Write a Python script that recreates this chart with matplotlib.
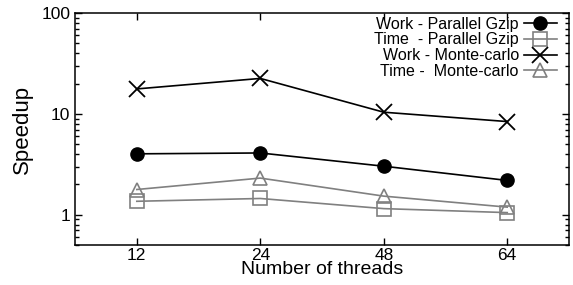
import matplotlib
matplotlib.use("Agg")
import matplotlib.pyplot as plt
from matplotlib.ticker import LogLocator, FixedLocator, NullFormatter

plt.rcParams['font.family'] = ['Liberation Sans', 'DejaVu Sans']

threads = ["12", "24", "48", "64"]
work_gzip = [4.02, 4.1, 3.03, 2.19]
time_gzip = [1.36, 1.45, 1.15, 1.05]
work_monte = [17.7, 22.5, 10.4, 8.4]
time_monte = [1.78, 2.31, 1.53, 1.19]

gray = "#808080"

fig = plt.figure(figsize=(5.73, 2.85), dpi=100)
ax = fig.add_axes([0.131, 0.14, 0.862, 0.814])

xs = range(len(threads))
ax.plot(xs, work_gzip, color="black", lw=1.2, marker="o", ms=9.5,
        label="Work - Parallel Gzip")
ax.plot(xs, time_gzip, color=gray, lw=1.2, marker="s", ms=10, mfc="none",
        mew=1.2, label="Time  - Parallel Gzip")
ax.plot(xs, work_monte, color="black", lw=1.2, marker="x", ms=11.5,
        mew=1.3, label="Work - Monte-carlo")
ax.plot(xs, time_monte, color=gray, lw=1.2, marker="^", ms=10, mfc="none",
        mew=1.2, label="Time -  Monte-carlo")

ax.set_yscale("log")
ax.set_ylim(0.5, 100)
ax.set_xlim(-0.5, 3.5)
ax.set_xticks(list(xs))
ax.set_xticklabels(threads)
ax.yaxis.set_major_locator(FixedLocator([1, 10, 100]))
ax.set_yticklabels(["1", "10", "100"])
ax.yaxis.set_minor_locator(LogLocator(base=10, subs=range(2, 10)))
ax.yaxis.set_minor_formatter(NullFormatter())

ax.tick_params(which="both", direction="in", top=True, right=True,
               labelsize=12.5, width=1.0)
ax.tick_params(which="major", length=5)
ax.tick_params(which="minor", length=3)
ax.tick_params(axis="x", which="major", pad=2)
for s in ax.spines.values():
    s.set_linewidth(1.1)

ax.set_xlabel("Number of threads", fontsize=14, labelpad=-1)
ax.set_ylabel("Speedup", fontsize=16, labelpad=6)

ax.legend(loc="upper right", bbox_to_anchor=(0.976, 0.985), frameon=False,
          markerfirst=False, fontsize=11.5, labelspacing=0.05,
          handlelength=2.1, handletextpad=0.3, borderpad=0, borderaxespad=0)

fig.savefig("out.png", dpi=100)
